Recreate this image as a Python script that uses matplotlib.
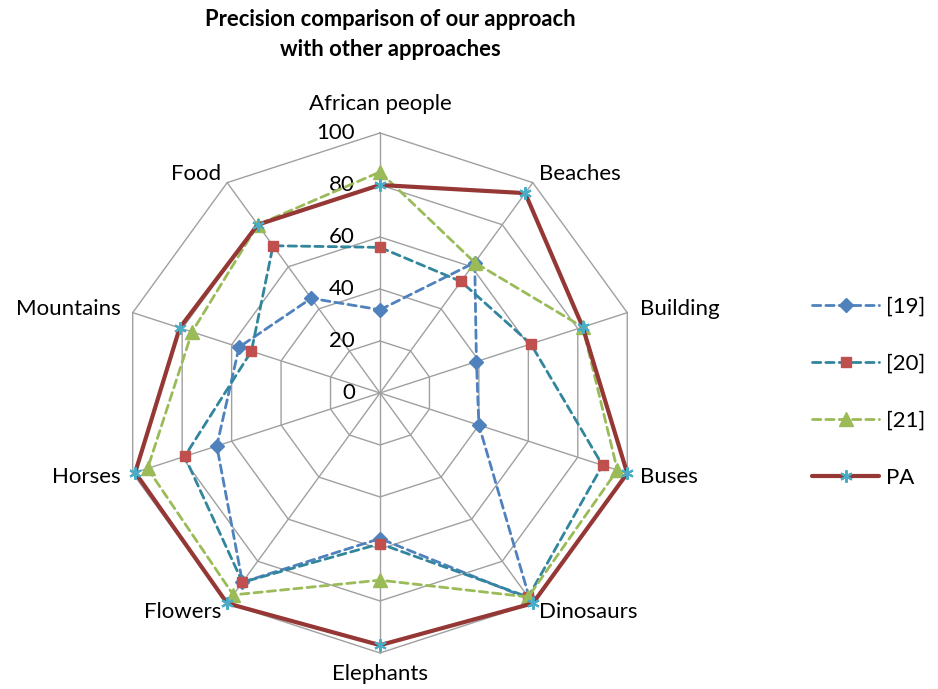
import matplotlib.pyplot as plt
import matplotlib.transforms as mtransforms
from matplotlib.lines import Line2D
import numpy as np

plt.rcParams['font.family'] = ['Lato', 'DejaVu Sans']

# Precision (%) per image category, clockwise from the top
categories = ['African people', 'Beaches', 'Building', 'Buses', 'Dinosaurs',
              'Elephants', 'Flowers', 'Horses', 'Mountains', 'Food']
prec_19 = [32, 62, 39, 40, 98, 56, 90, 66, 57, 45]
prec_20 = [56, 53, 61, 90, 97, 58, 90, 79, 52, 70]
prec_21 = [85, 62, 82, 96, 97, 72, 96, 94, 76, 80]
prec_pa = [80, 95, 82, 100, 100, 97, 100, 99, 81, 80]
series_names = ['[19]', '[20]', '[21]', 'PA']
ring_values = [0, 20, 40, 60, 80, 100]

n = len(categories)
angles = np.linspace(0, 2 * np.pi, n, endpoint=False)
closed = np.append(angles, angles[0])

fig = plt.figure(figsize=(9.38, 6.89), dpi=100)
ax = fig.add_axes([0.1279, 0.0523, 0.5544, 0.7547], projection='polar')
ax.set_theta_zero_location('N')
ax.set_theta_direction(-1)
ax.set_ylim(0, 100)
ax.grid(False)
ax.spines['polar'].set_visible(False)
ax.set_xticks([])
ax.set_yticks([])
ax.patch.set_visible(False)

grid_color = '#A0A0A0'
# polygon rings and spokes
for v in ring_values[1:]:
    ax.plot(closed, [v] * (n + 1), color=grid_color, lw=1.0, zorder=1, clip_on=False)
for a in angles:
    ax.plot([a, a], [0, 100], color=grid_color, lw=1.0, zorder=1, clip_on=False)

styles = [
    dict(color='#4F81BD', ls=(0, (3, 1.8)), lw=2.0, marker='D', ms=7.5,
         mfc='#4F81BD', mec='#4F81BD'),
    dict(color='#31859C', ls=(0, (3, 1.8)), lw=2.0, marker='s', ms=7,
         mfc='#C0504D', mec='#C0504D'),
    dict(color='#9BBB59', ls=(0, (3, 1.8)), lw=2.0, marker='^', ms=10,
         mfc='#9BBB59', mec='#9BBB59'),
    dict(color='#953735', ls='-', lw=3.0, marker=(6, 2, 0), ms=9,
         mfc='#4BACC6', mec='#4BACC6', mew=1.5),
]
all_series = [prec_19, prec_20, prec_21, prec_pa]

handles = []
for i, (vals, st) in enumerate(zip(all_series, styles)):
    v = np.append(vals, vals[0])
    ax.plot(closed, v, color=st['color'], ls=st['ls'], lw=st['lw'],
            zorder=3 + i, clip_on=False, solid_capstyle='round',
            dash_capstyle='round')
    ax.plot(angles, vals, ls='none', marker=st['marker'], ms=st['ms'],
            mfc=st['mfc'], mec=st['mec'], mew=st.get('mew', 1.0),
            zorder=3.5 + i, clip_on=False)
    handles.append(Line2D([], [], color=st['color'], ls=st['ls'], lw=st['lw'],
                          marker=st['marker'], ms=st['ms'], mfc=st['mfc'],
                          mec=st['mec'], mew=st.get('mew', 1.0),
                          dash_capstyle='round', solid_capstyle='round'))

# category labels around the outside
label_pos = [
    (111, 'center', 'center'), (104, 'left', 'center'), (105, 'left', 'center'),
    (105, 'left', 'center'), (104, 'left', 'center'), (108, 'center', 'center'),
    (104, 'right', 'center'), (105, 'right', 'center'), (105, 'right', 'center'),
    (104, 'right', 'center'),
]
for a, name, (r, ha, va) in zip(angles, categories, label_pos):
    ax.text(a, r, name, ha=ha, va=va, fontsize=16, color='black')

# value labels along the top spoke
shift = mtransforms.offset_copy(ax.transData, fig=fig, x=-25, y=0, units='dots')
for v in ring_values:
    ax.text(0, v, str(v), transform=shift, ha='right', va='center', fontsize=16)

fig.text(0.416, 1 - 20 / 689, 'Precision comparison of our approach',
         ha='center', va='center', fontsize=15.8, fontweight='bold')
fig.text(0.416, 1 - 50 / 689, 'with other approaches',
         ha='center', va='center', fontsize=15.8, fontweight='bold')

fig.legend(handles, series_names, loc='center left',
           bbox_to_anchor=(0.866, 1 - 392 / 689), frameon=False, fontsize=16,
           handlelength=3.0, handletextpad=0.3, labelspacing=1.67,
           borderpad=0, borderaxespad=0, numpoints=1)

fig.savefig('out.png', dpi=100)
